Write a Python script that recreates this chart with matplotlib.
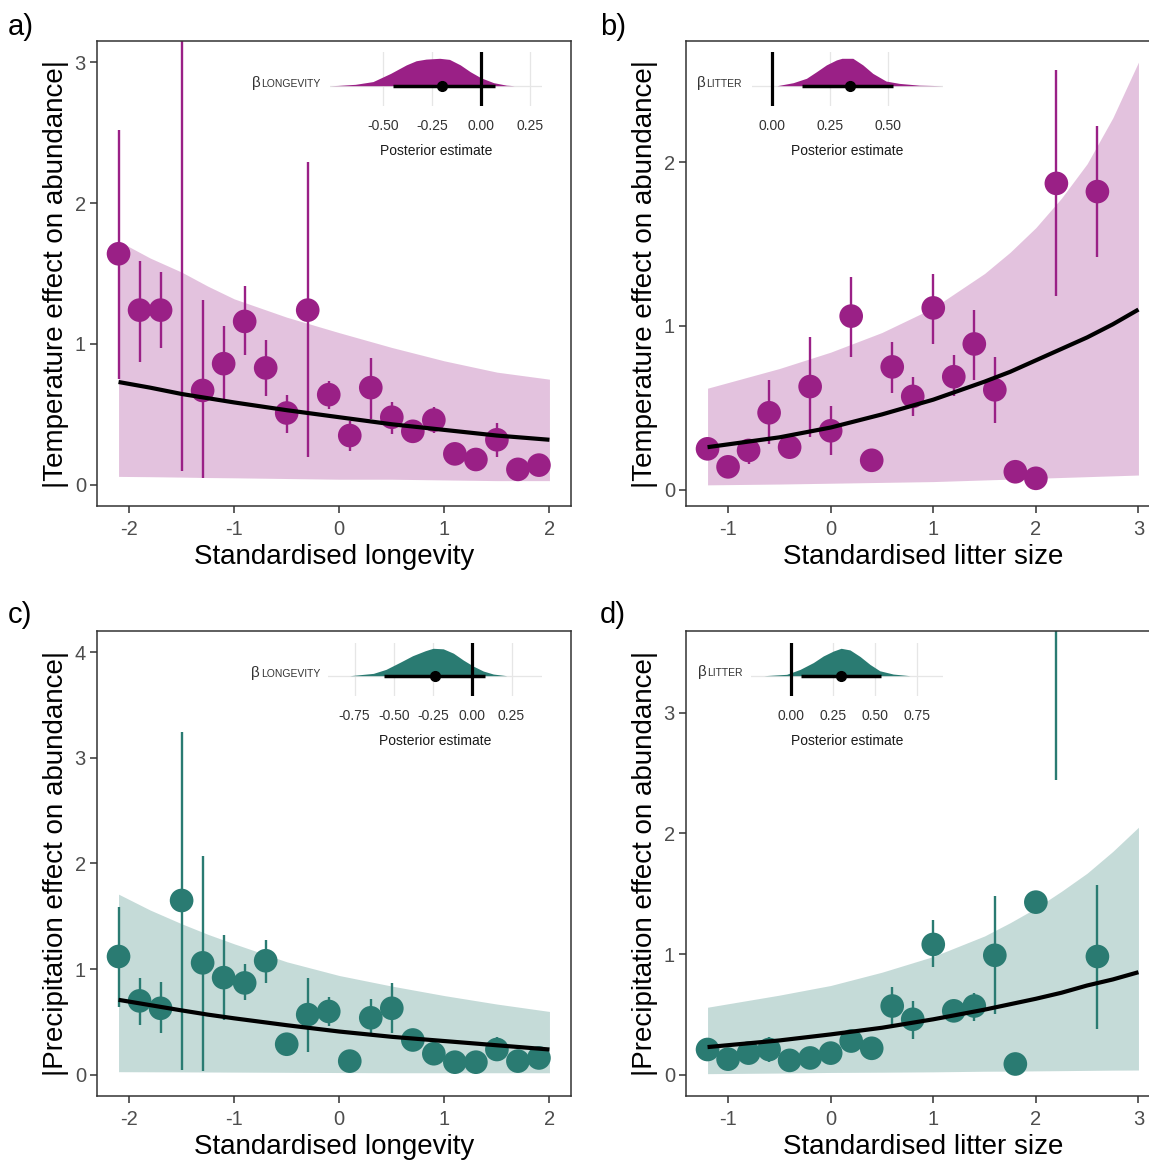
import numpy as np
import matplotlib
matplotlib.use("Agg")
import matplotlib.pyplot as plt

plt.rcParams['font.family'] = ['Liberation Sans', 'DejaVu Sans']
plt.rcParams['axes.unicode_minus'] = False

# ---------------- data ----------------
# longevity panels (a: temperature, c: precipitation)
long_x = [-2.1, -1.9, -1.7, -1.5, -1.3, -1.1, -0.9, -0.7, -0.5, -0.3, -0.1,
          0.1, 0.3, 0.5, 0.7, 0.9, 1.1, 1.3, 1.5, 1.7, 1.9]
a_y = [1.64, 1.24, 1.24, 3.50, 0.67, 0.86, 1.16, 0.83, 0.51, 1.24, 0.64,
       0.35, 0.69, 0.48, 0.38, 0.46, 0.22, 0.18, 0.32, 0.11, 0.14]
a_lo = [0.75, 0.87, 0.97, 0.10, 0.05, 0.60, 0.92, 0.63, 0.37, 0.20, 0.54,
        0.24, 0.47, 0.36, 0.35, 0.37, 0.20, 0.16, 0.20, 0.10, 0.13]
a_hi = [2.52, 1.59, 1.51, 7.00, 1.31, 1.13, 1.41, 1.03, 0.64, 2.29, 0.74,
        0.45, 0.90, 0.59, 0.41, 0.55, 0.24, 0.20, 0.44, 0.12, 0.15]

c_y = [1.12, 0.70, 0.63, 1.65, 1.06, 0.92, 0.87, 1.08, 0.29, 0.57, 0.60,
       0.13, 0.54, 0.63, 0.33, 0.20, 0.12, 0.12, 0.24, 0.13, 0.16]
c_lo = [0.64, 0.47, 0.40, 0.05, 0.04, 0.52, 0.71, 0.87, 0.27, 0.22, 0.46,
        0.12, 0.39, 0.40, 0.31, 0.18, 0.11, 0.11, 0.15, 0.12, 0.15]
c_hi = [1.59, 0.92, 0.88, 3.24, 2.07, 1.32, 1.05, 1.28, 0.31, 0.92, 0.74,
        0.14, 0.72, 0.87, 0.35, 0.22, 0.13, 0.13, 0.36, 0.14, 0.17]

long_fx = [-2.1, -1.8, -1.5, -1.25, -1.0, -0.5, 0.0, 0.5, 1.0, 1.5, 2.0]
a_upper = [1.73, 1.61, 1.51, 1.41, 1.32, 1.19, 1.08, 0.975, 0.88, 0.80, 0.75]
a_lower = [0.06, 0.058, 0.055, 0.052, 0.05, 0.045, 0.04, 0.04, 0.035, 0.03, 0.03]
a_fit = [0.73, 0.69, 0.645, 0.615, 0.585, 0.53, 0.48, 0.43, 0.39, 0.35, 0.32]
c_upper = [1.71, 1.56, 1.43, 1.33, 1.24, 1.07, 0.94, 0.84, 0.75, 0.67, 0.60]
c_lower = [0.03, 0.029, 0.028, 0.027, 0.026, 0.024, 0.022, 0.02, 0.02, 0.02, 0.02]
c_fit = [0.71, 0.66, 0.61, 0.57, 0.535, 0.47, 0.41, 0.36, 0.32, 0.28, 0.24]

# litter size panels (b: temperature, d: precipitation)
litter_x = [-1.2, -1.0, -0.8, -0.6, -0.4, -0.2, 0.0, 0.2, 0.4, 0.6, 0.8,
            1.0, 1.2, 1.4, 1.6, 1.8, 2.0, 2.2, 2.6]
b_y = [0.25, 0.14, 0.24, 0.47, 0.26, 0.63, 0.36, 1.06, 0.18, 0.75, 0.57,
       1.11, 0.69, 0.89, 0.61, 0.11, 0.07, 1.87, 1.82]
b_lo = [0.23, 0.12, 0.16, 0.28, 0.23, 0.32, 0.21, 0.81, 0.16, 0.59, 0.45,
        0.89, 0.57, 0.67, 0.41, 0.10, 0.06, 1.18, 1.42]
b_hi = [0.28, 0.16, 0.31, 0.67, 0.29, 0.93, 0.51, 1.30, 0.20, 0.90, 0.69,
        1.32, 0.82, 1.10, 0.81, 0.12, 0.08, 2.56, 2.22]

d_y = [0.21, 0.13, 0.18, 0.21, 0.12, 0.14, 0.18, 0.28, 0.22, 0.57, 0.46,
       1.08, 0.53, 0.57, 0.99, 0.09, 1.43, 4.50, 0.98]
d_lo = [0.19, 0.12, 0.16, 0.11, 0.11, 0.13, 0.16, 0.25, 0.14, 0.41, 0.30,
        0.89, 0.44, 0.45, 0.50, 0.08, 1.41, 2.44, 0.38]
d_hi = [0.23, 0.14, 0.20, 0.31, 0.13, 0.15, 0.20, 0.31, 0.31, 0.73, 0.61,
        1.28, 0.61, 0.68, 1.48, 0.10, 1.45, 9.00, 1.57]

litter_fx = [-1.2, -0.5, 0.0, 0.5, 1.0, 1.5, 1.75, 2.0, 2.25, 2.5, 2.75, 3.0]
b_upper = [0.62, 0.74, 0.84, 0.96, 1.11, 1.32, 1.45, 1.60, 1.78, 1.99, 2.27, 2.61]
b_lower = [0.03, 0.035, 0.04, 0.045, 0.05, 0.06, 0.065, 0.07, 0.075, 0.08, 0.085, 0.09]
b_fit = [0.26, 0.32, 0.38, 0.46, 0.55, 0.66, 0.72, 0.79, 0.86, 0.93, 1.01, 1.10]
d_upper = [0.56, 0.66, 0.74, 0.85, 0.98, 1.15, 1.26, 1.38, 1.52, 1.67, 1.85, 2.05]
d_lower = [0.01, 0.015, 0.02, 0.022, 0.025, 0.03, 0.031, 0.033, 0.035, 0.037, 0.039, 0.04]
d_fit = [0.23, 0.285, 0.335, 0.39, 0.46, 0.54, 0.585, 0.63, 0.68, 0.74, 0.79, 0.85]

# posterior densities for the slope (relative height)
a_dx = [-0.77, -0.73, -0.64, -0.55, -0.46, -0.38, -0.33, -0.28, -0.21, -0.16,
        -0.105, -0.054, 0.0, 0.065, 0.13, 0.17, 0.31]
a_dy = [0.0, 0.01, 0.05, 0.15, 0.45, 0.76, 0.91, 0.97, 1.0, 0.96,
        0.76, 0.51, 0.29, 0.11, 0.02, 0.0, 0.0]
b_dx = [0.02, 0.09, 0.147, 0.19, 0.233, 0.276, 0.30, 0.347, 0.39, 0.433,
        0.49, 0.547, 0.633, 0.733]
b_dy = [0.0, 0.11, 0.27, 0.51, 0.76, 0.94, 1.0, 1.0, 0.76, 0.45,
        0.17, 0.085, 0.02, 0.0]
c_dx = [-0.78, -0.63, -0.55, -0.46, -0.38, -0.30, -0.25, -0.185, -0.12,
        -0.057, 0.006, 0.07, 0.134, 0.22]
c_dy = [0.0, 0.085, 0.23, 0.49, 0.73, 0.91, 1.0, 0.98, 0.82,
        0.57, 0.35, 0.17, 0.06, 0.0]
d_dx = [-0.16, -0.024, 0.056, 0.135, 0.194, 0.254, 0.30, 0.353, 0.413,
        0.472, 0.53, 0.61, 0.71]
d_dy = [0.0, 0.05, 0.23, 0.48, 0.72, 0.90, 1.0, 0.94, 0.70,
        0.41, 0.18, 0.06, 0.0]

# point estimate, lower, upper of slope
a_beta = [-0.199, -0.448, 0.073]
b_beta = [0.333, 0.13, 0.519]
c_beta = [-0.238, -0.564, 0.081]
d_beta = [0.30, 0.06, 0.536]

a_bticks = [-0.5, -0.25, 0.0, 0.25]
b_bticks = [0.0, 0.25, 0.5]
c_bticks = [-0.75, -0.5, -0.25, 0.0, 0.25]
d_bticks = [0.0, 0.25, 0.5, 0.75]

long_ticks = [-2, -1, 0, 1, 2]
litter_ticks = [-1, 0, 1, 2, 3]

# ---------------- styling ----------------
W, H = 1149, 1160
PURPLE = '#9A2086'
TEAL = '#2A7B72'

fig = plt.figure(figsize=(W / 100, H / 100), dpi=100)


def box(l, t, r, b):
    return [l / W, 1 - b / H, (r - l) / W, (b - t) / H]


def main_panel(rect, xs, ys, lo, hi, fx, up, low, fit, color, xlim, ylim,
               yticks, xticks, xlabel, ylabel):
    ax = fig.add_axes(rect)
    ax.fill_between(fx, low, up, color=color, alpha=0.27, lw=0, zorder=1)
    ax.vlines(xs, lo, hi, color=color, lw=1.7, zorder=2)
    ax.scatter(xs, ys, s=290, color=color, edgecolor='none', zorder=3)
    ax.plot(fx, fit, color='black', lw=3.0, zorder=4, solid_capstyle='butt',
            solid_joinstyle='round')
    ax.set_xlim(*xlim)
    ax.set_ylim(*ylim)
    ax.set_xticks(xticks)
    ax.set_xticklabels([str(t) for t in xticks])
    ax.set_yticks(yticks)
    ax.set_yticklabels([str(t) for t in yticks])
    for s in ax.spines.values():
        s.set_color('#333333')
        s.set_linewidth(1.1)
    ax.tick_params(axis='both', colors='#333333', length=5, width=1.1,
                   labelsize=14.5, labelcolor='#4D4D4D')
    ax.tick_params(axis='x', pad=5)
    ax.tick_params(axis='y', pad=3)
    ax.set_xlabel(xlabel, fontsize=20, labelpad=4)
    ax.set_ylabel(ylabel, fontsize=20, labelpad=4)
    return ax


def inset(rect, dx, dy, beta, color, xlim, ylim, ticks):
    ax = fig.add_axes(rect)
    ax.set_facecolor('none')
    for s in ax.spines.values():
        s.set_visible(False)
    for t in ticks:
        ax.axvline(t, color='#E6E6E6', lw=0.9, zorder=0)
    ax.axhline(0, color='#E6E6E6', lw=0.9, zorder=0)
    ax.fill_between(dx, 0, dy, color=color, lw=0, zorder=1)
    ax.axvline(0, color='black', lw=2.3, zorder=3)
    ax.plot([beta[1], beta[2]], [0, 0], color='black', lw=2.5, zorder=4,
            solid_capstyle='butt')
    ax.plot([beta[0]], [0], 'o', color='black', ms=7, zorder=5)
    ax.set_xlim(*xlim)
    ax.set_ylim(*ylim)
    ax.set_yticks([])
    ax.set_xticks(ticks)
    ax.set_xticklabels(['%.2f' % t for t in ticks])
    ax.tick_params(axis='x', length=0, pad=9.5, labelsize=10,
                   labelcolor='#333333')
    ax.set_xlabel('Posterior estimate', fontsize=10, labelpad=8,
                  color='#1A1A1A')
    return ax


def beta_label(x_right, y_center, sub):
    r = fig.canvas.get_renderer()
    t2 = fig.text(x_right / W, 1 - y_center / H, sub, fontsize=7.5,
                  ha='right', va='center', color='#333333')
    bb = t2.get_window_extent(renderer=r)
    fig.text((bb.x0 - 0.5) / W, 1 - (y_center - 1) / H, 'β', fontsize=11,
             ha='right', va='center', color='#333333')


temp_lab = '|Temperature effect on abundance|'
prec_lab = '|Precipitation effect on abundance|'

main_panel(box(97, 41, 571, 506), long_x, a_y, a_lo, a_hi, long_fx, a_upper,
           a_lower, a_fit, PURPLE, (-2.305, 2.205), (-0.15, 3.15),
           [0, 1, 2, 3], long_ticks, 'Standardised longevity', temp_lab)
main_panel(box(686, 41, 1160, 506), litter_x, b_y, b_lo, b_hi, litter_fx,
           b_upper, b_lower, b_fit, PURPLE, (-1.41, 3.21), (-0.099, 2.739),
           [0, 1, 2], litter_ticks, 'Standardised litter size', temp_lab)
main_panel(box(97, 631, 571, 1096), long_x, c_y, c_lo, c_hi, long_fx, c_upper,
           c_lower, c_fit, TEAL, (-2.305, 2.205), (-0.2, 4.2),
           [0, 1, 2, 3, 4], long_ticks, 'Standardised longevity', prec_lab)
main_panel(box(686, 631, 1160, 1096), litter_x, d_y, d_lo, d_hi, litter_fx,
           d_upper, d_lower, d_fit, TEAL, (-1.41, 3.21), (-0.175, 3.675),
           [0, 1, 2, 3], litter_ticks, 'Standardised litter size', prec_lab)

inset(box(330, 52, 541.7, 106), a_dx, a_dy, a_beta, PURPLE, (-0.769, 0.31),
      (-0.741, 1.23), a_bticks)
inset(box(751.7, 52, 943.3, 106), b_dx, b_dy, b_beta, PURPLE, (-0.089, 0.737),
      (-0.741, 1.23), b_bticks)
inset(box(328, 643, 541.7, 696), c_dx, c_dy, c_beta, TEAL, (-0.919, 0.442),
      (-0.741, 1.193), c_bticks)
inset(box(751, 643, 943.3, 696), d_dx, d_dy, d_beta, TEAL, (-0.236, 0.908),
      (-0.741, 1.193), d_bticks)

beta_label(321, 84, 'LONGEVITY')
beta_label(742, 84, 'LITTER')
beta_label(320, 674, 'LONGEVITY')
beta_label(743, 673, 'LITTER')

for lab, x, y in [('a)', 8, 27), ('b)', 600, 27), ('c)', 8, 615), ('d)', 600, 615)]:
    fig.text(x / W, 1 - y / H, lab, fontsize=21, ha='left', va='center')

fig.savefig('out.png', dpi=100)
